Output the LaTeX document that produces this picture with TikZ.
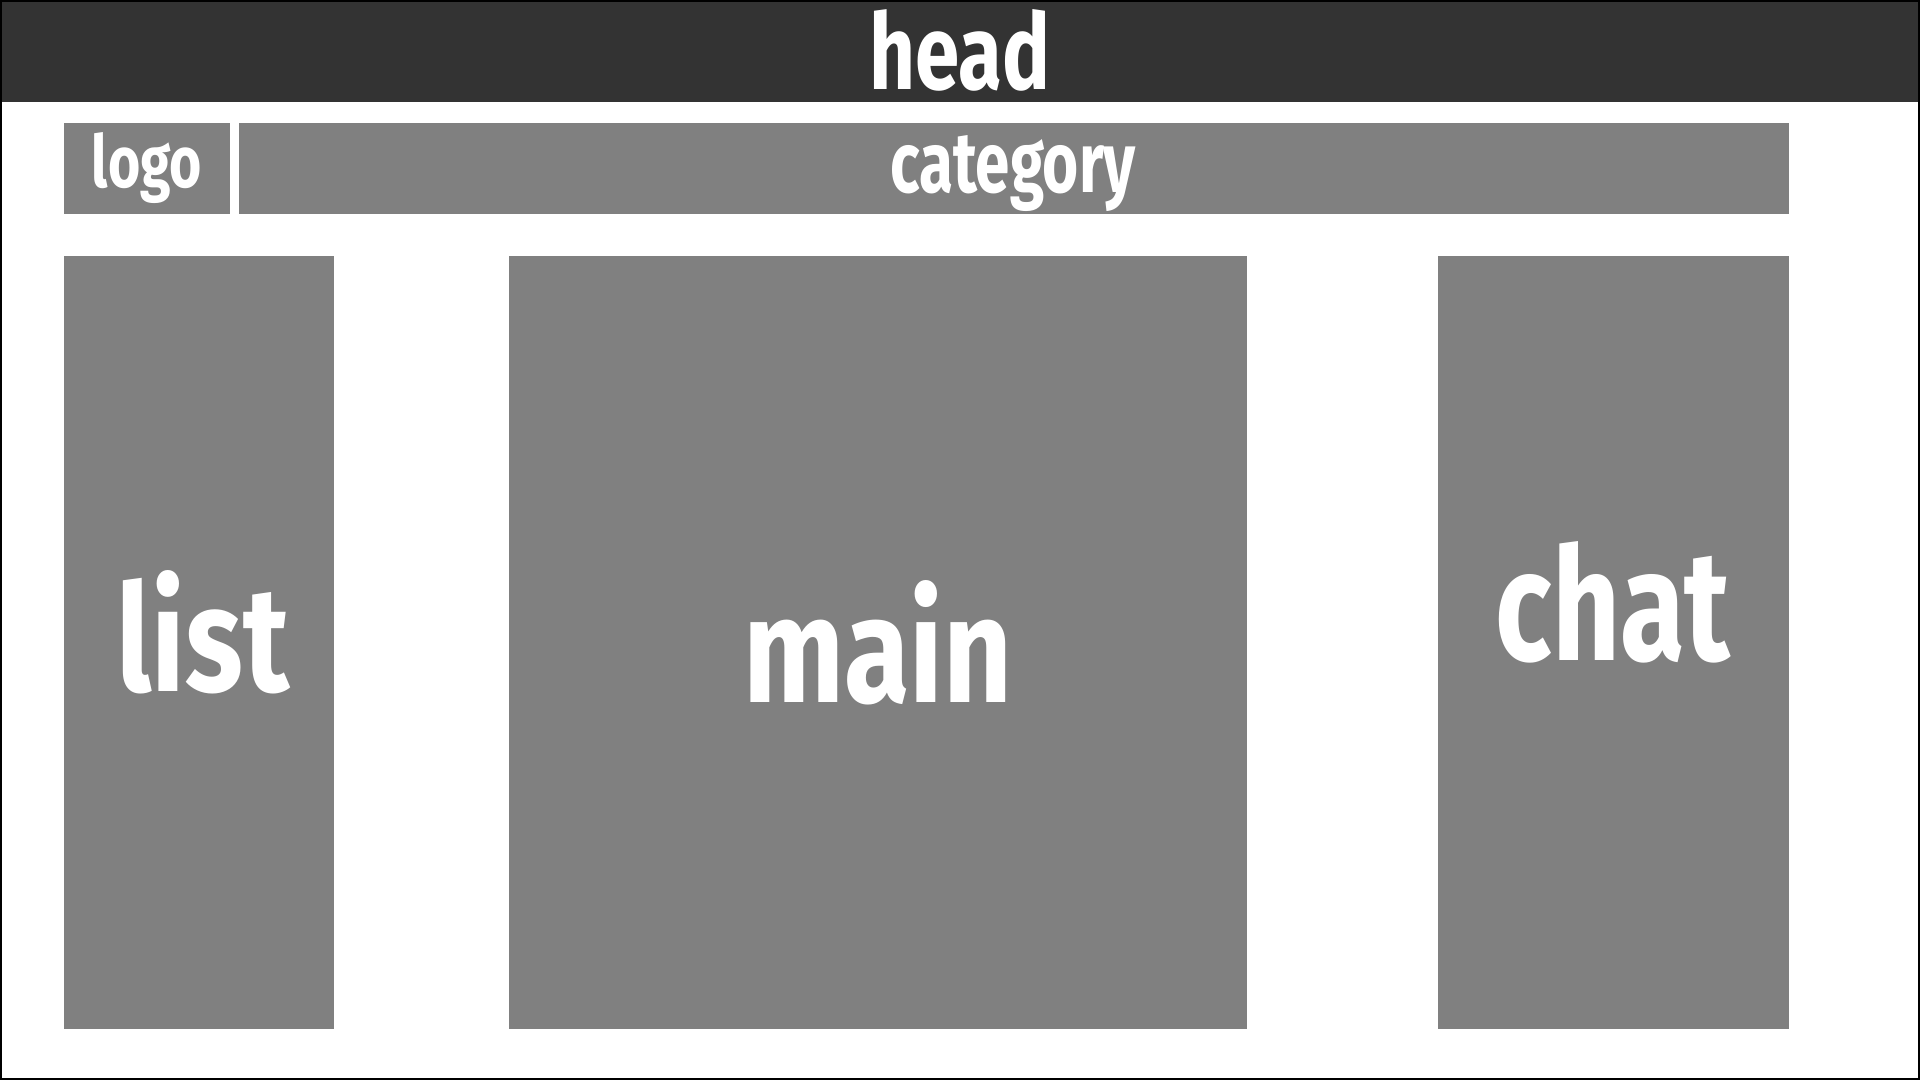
\documentclass[tikz,border=0pt]{standalone}
\usepackage{fontspec}
\setmainfont{Fira Sans}
\usepackage{graphicx}
\definecolor{headgray}{HTML}{333333}
\definecolor{boxgray}{HTML}{808080}
\tikzset{
  panel/.style={fill=boxgray, draw=none, inner sep=0pt, outer sep=0pt, anchor=north west},
  word/.style={text=white, inner sep=0pt, outer sep=0pt, anchor=base, font=\bfseries},
}
\newcommand{\fitword}[3]{\resizebox{#1pt}{#2pt}{#3}}
\begin{document}
\begin{tikzpicture}[x=1pt,y=-1pt]
\useasboundingbox (0,0) rectangle (1920,1080);
\fill[black] (0,0) rectangle (1920,1080);
\fill[white] (2,2) rectangle (1918,1078);
% panels
\node[panel, fill=headgray, minimum width=1916pt, minimum height=100pt] (head) at (2,2) {};
\node[panel, minimum width=166pt, minimum height=91pt] (logo) at (64,123) {};
\node[panel, minimum width=1550pt, minimum height=91pt] (category) at (239,123) {};
\node[panel, minimum width=270pt, minimum height=773pt] (list) at (64,256) {};
\node[panel, minimum width=738pt, minimum height=773pt] (main) at (509,256) {};
\node[panel, minimum width=351pt, minimum height=773pt] (chat) at (1438,256) {};
% labels
\node[word] (headtxt) at (960,89) {\fitword{181}{80}{head}};
\node[word] (logotxt) at (147,187) {\fitword{110}{55}{logo}};
\node[word] (categorytxt) at (1013,192) {\fitword{246}{57}{category}};
\node[word] (listtxt) at (203,691) {\fitword{173}{121}{list}};
\node[word] (maintxt) at (878,702) {\fitword{269}{122}{main}};
\node[word] (chattxt) at (1613,660) {\fitword{235}{119}{chat}};
\end{tikzpicture}
\end{document}
